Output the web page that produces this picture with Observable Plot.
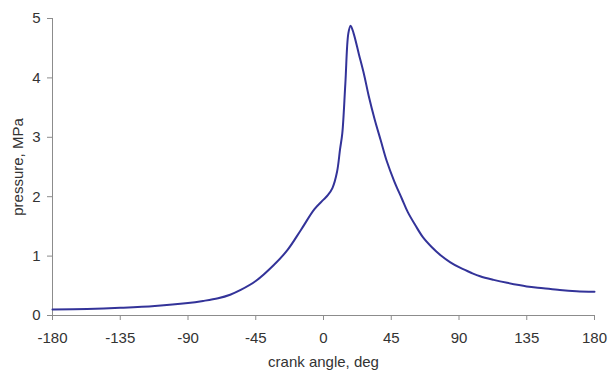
<!DOCTYPE html>
<html>
<head>
<meta charset="utf-8">
<script src="https://cdn.jsdelivr.net/npm/d3@7"></script>
<script src="https://cdn.jsdelivr.net/npm/@observablehq/plot@0.6"></script>
<style>
  html, body { margin: 0; padding: 0; background: #fff; }
  #chart svg { display: block; }
</style>
</head>
<body>
<div id="chart"></div>
<script>
const angle = [-180, -157, -135, -112, -90, -80, -70, -62, -55, -45, -33, -24, -15, -6, 0, 3, 6, 9, 11, 12.5, 14.5, 16.5, 18, 20, 23.5, 27, 30, 34, 38, 42, 47, 52, 56, 61, 66, 72, 78, 84, 91, 98, 104, 113, 122, 135, 146, 157, 168, 180];
const pressure = [0.10, 0.11, 0.13, 0.16, 0.21, 0.245, 0.29, 0.35, 0.43, 0.58, 0.85, 1.10, 1.44, 1.79, 1.95, 2.03, 2.15, 2.42, 2.80, 3.07, 3.90, 4.75, 4.88, 4.75, 4.40, 4.05, 3.70, 3.30, 2.95, 2.60, 2.26, 1.97, 1.74, 1.52, 1.32, 1.15, 1.01, 0.90, 0.80, 0.72, 0.66, 0.60, 0.55, 0.49, 0.46, 0.43, 0.41, 0.40];
const xTicks = [-180, -135, -90, -45, 0, 45, 90, 135, 180];
const yTicks = [0, 1, 2, 3, 4, 5];
const xLabel = "crank angle, deg";
const yLabel = "pressure, MPa";

const data = angle.map((a, i) => ({angle: a, pressure: pressure[i]}));

const chart = Plot.plot({
  width: 608,
  height: 372,
  marginLeft: 52,
  marginRight: 14,
  marginTop: 18,
  marginBottom: 57,
  style: {fontFamily: "'Liberation Sans', Arial, sans-serif", fontSize: "15px", color: "#333", background: "#fff"},
  x: {domain: [-180, 180]},
  y: {domain: [0, 5]},
  marks: [
    Plot.ruleY([0], {stroke: "#8c8c8c", strokeWidth: 1}),
    Plot.ruleX([-180], {stroke: "#8c8c8c", strokeWidth: 1}),
    Plot.axisX({ticks: xTicks, tickSize: 5, tickPadding: 12, stroke: "#8c8c8c", fontSize: 15,
      tickFormat: d => String(d),
      label: xLabel, labelAnchor: "center", labelArrow: "none", labelOffset: 51}),
    Plot.axisY({ticks: yTicks, tickSize: 5, tickPadding: 7, stroke: "#8c8c8c", fontSize: 15,
      tickFormat: d => String(d),
      label: yLabel, labelAnchor: "center", labelArrow: "none", labelOffset: 40}),
    Plot.line(data, {x: "angle", y: "pressure", stroke: "#333399", strokeWidth: 2, curve: "catmull-rom"})
  ]
});
document.getElementById("chart").appendChild(chart);
</script>
</body>
</html>
